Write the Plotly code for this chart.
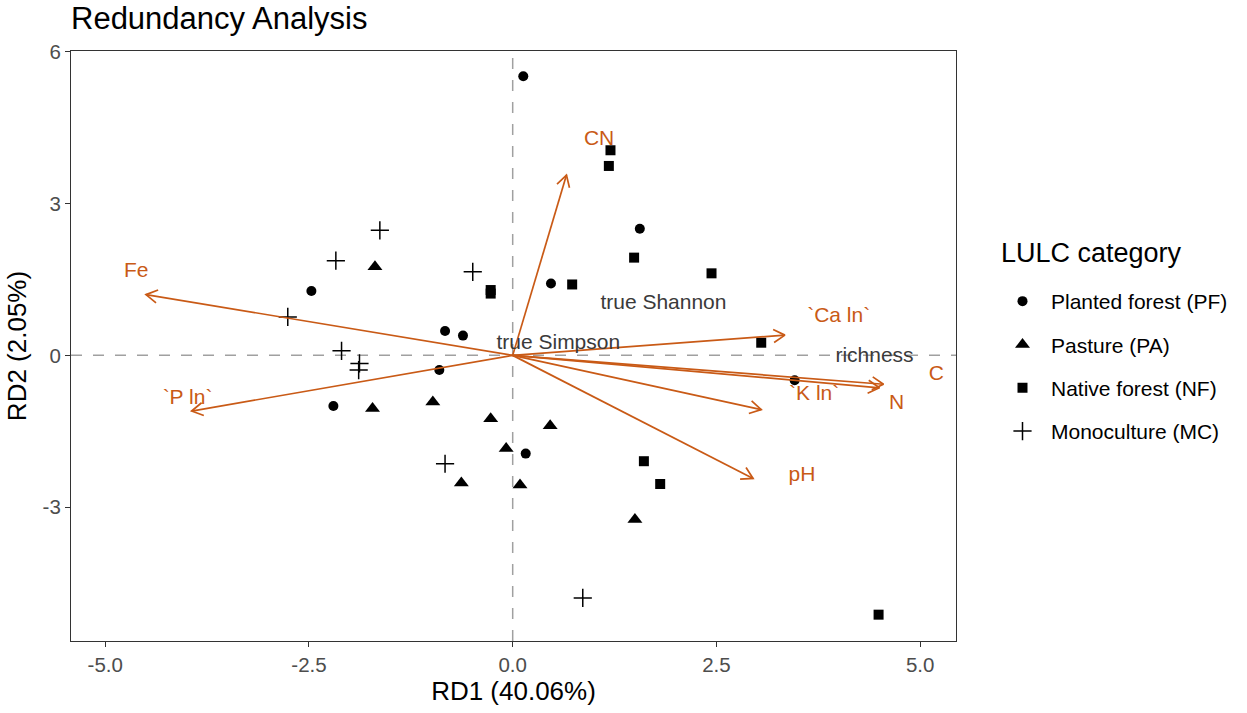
import numpy as np
import plotly.graph_objects as go

# site scores
pf_x = [-2.47, -0.83, -0.61, -0.90, -2.20, 0.13, 1.56, 0.47, 3.46, 0.16]
pf_y = [1.27, 0.48, 0.39, -0.29, -1.00, 5.51, 2.50, 1.42, -0.49, -1.94]
pa_x = [-1.69, -1.72, -0.98, -0.27, -0.08, -0.63, 0.09, 0.46, 1.50]
pa_y = [1.75, -1.05, -0.92, -1.25, -1.84, -2.52, -2.56, -1.39, -3.24]
nf_x = [-0.27, -0.27, 1.20, 1.18, 1.49, 2.44, 0.73, 3.05, 1.61, 1.81, 4.49]
nf_y = [1.29, 1.22, 4.05, 3.74, 1.93, 1.62, 1.40, 0.25, -2.09, -2.54, -5.12]
mc_x = [-1.63, -2.17, -0.49, -2.76, -2.10, -1.88, -1.89, -0.83, 0.86]
mc_y = [2.47, 1.87, 1.65, 0.76, 0.09, -0.16, -0.29, -2.14, -4.79]

# environmental vectors (tips) and their labels
env_names = ["CN", "Fe", "`Ca ln`", "`P ln`", "C", "N", "`K ln`", "pH"]
env_x = [0.66, -4.50, 3.34, -3.94, 4.55, 4.50, 3.05, 2.95]
env_y = [3.56, 1.20, 0.40, -1.10, -0.57, -0.64, -1.07, -2.43]
env_lab_x = [1.06, -4.62, 4.00, -3.99, 5.20, 4.71, 3.70, 3.55]
env_lab_y = [4.25, 1.66, 0.77, -0.86, -0.39, -0.96, -0.77, -2.37]

# response variables (text only)
resp_names = ["true Shannon", "true Simpson", "richness"]
resp_x = [1.85, 0.56, 4.44]
resp_y = [1.02, 0.23, -0.02]

x_ticks = [-5.0, -2.5, 0.0, 2.5, 5.0]
x_tick_labels = ["-5.0", "-2.5", "0.0", "2.5", "5.0"]
y_ticks = [-3, 0, 3, 6]
y_tick_labels = ["-3", "0", "3", "6"]

W, H = 1247, 713
ml, mr, mt, mb = 71, 291, 51, 72
x_range = [-5.42, 5.44]
y_range = [-5.64, 6.01]
orange = "#C95A16"
font = "Liberation Sans, Arial, sans-serif"

# pixels per data unit, used to shape the open arrowheads
sx = (W - ml - mr) / (x_range[1] - x_range[0])
sy = (H - mt - mb) / (y_range[1] - y_range[0])

fig = go.Figure()

groups = [
    ("Planted forest (PF)", pf_x, pf_y, "circle", 10),
    ("Pasture (PA)", pa_x, pa_y, "triangle-up", 13),
    ("Native forest (NF)", nf_x, nf_y, "square", 10),
    ("Monoculture (MC)", mc_x, mc_y, "cross-thin", 13),
]
for name, xs, ys, sym, size in groups:
    fig.add_trace(go.Scatter(
        x=xs, y=ys, mode="markers", name=name, legendgroup=name,
        marker=dict(symbol=sym, size=size, color="black",
                    line=dict(color="black", width=1.5 if sym == "cross-thin" else 0)),
    ))

# arrows: shaft + open head
ax_l, ay_l = [], []
head_len, ang = 13, np.radians(30)
for tx, ty in zip(env_x, env_y):
    px, py = tx * sx, ty * sy
    n = np.hypot(px, py)
    ux, uy = px / n, py / n
    hx, hy = [], []
    for s in (1, -1):
        c, si = np.cos(s * ang), np.sin(s * ang)
        rx, ry = ux * c - uy * si, ux * si + uy * c
        hx.append(tx - head_len * rx / sx)
        hy.append(ty - head_len * ry / sy)
    ax_l += [0, tx, None, hx[0], tx, hx[1], None]
    ay_l += [0, ty, None, hy[0], ty, hy[1], None]

fig.add_trace(go.Scatter(x=ax_l, y=ay_l, mode="lines", showlegend=False,
                         line=dict(color=orange, width=1.7), hoverinfo="skip"))

fig.add_trace(go.Scatter(x=resp_x, y=resp_y, text=resp_names, mode="text",
                         showlegend=False, textfont=dict(size=21, color="#3a3a3a", family=font)))
fig.add_trace(go.Scatter(x=env_lab_x, y=env_lab_y, text=env_names, mode="text",
                         showlegend=False, textfont=dict(size=21, color=orange, family=font)))

fig.add_hline(y=0, line=dict(color="#A0A0A0", width=1.5, dash="11px,11px"), layer="below")
fig.add_vline(x=0, line=dict(color="#A0A0A0", width=1.5, dash="11px,11px"), layer="below")

axis_common = dict(
    showgrid=False, zeroline=False, showline=True, mirror=True,
    linecolor="#333333", linewidth=1.1, ticks="outside", ticklen=5,
    tickwidth=1.1, tickcolor="#333333",
    tickfont=dict(size=20.5, color="#4D4D4D", family=font),
)
fig.update_xaxes(range=x_range, tickvals=x_ticks, ticktext=x_tick_labels,
                 title=dict(text="RD1 (40.06%)", font=dict(size=26, color="black", family=font), standoff=6),
                 **axis_common)
fig.update_yaxes(range=y_range, tickvals=y_ticks, ticktext=y_tick_labels,
                 title=dict(text="RD2 (2.05%)", font=dict(size=26, color="black", family=font), standoff=8),
                 **axis_common)

# legend title as a separate label, so the gap to the first key matches
fig.add_annotation(text="LULC category", xref="paper", yref="paper",
                   x=(999 - ml) / (W - ml - mr), xanchor="left",
                   y=(H - mb - 253) / (H - mt - mb), yanchor="middle",
                   showarrow=False, font=dict(size=27, color="black", family=font))

fig.update_layout(
    width=W, height=H,
    margin=dict(l=ml, r=mr, t=mt, b=mb, pad=0),
    paper_bgcolor="white", plot_bgcolor="white",
    font=dict(family=font, color="black"),
    title=dict(text="Redundancy Analysis", x=0, xref="paper", xanchor="left",
               y=1 - 18 / H, yref="container", yanchor="middle",
               font=dict(size=31, color="black", family=font)),
    legend=dict(x=(994 - ml) / (W - ml - mr), xanchor="left",
                y=(H - mb - 281) / (H - mt - mb), yanchor="top",
                font=dict(size=21, family=font), tracegroupgap=13, itemwidth=47,
                bgcolor="rgba(0,0,0,0)"),
)

fig.write_html("out.html", config={"displayModeBar": False},
               post_script="document.body.style.margin='0';")
